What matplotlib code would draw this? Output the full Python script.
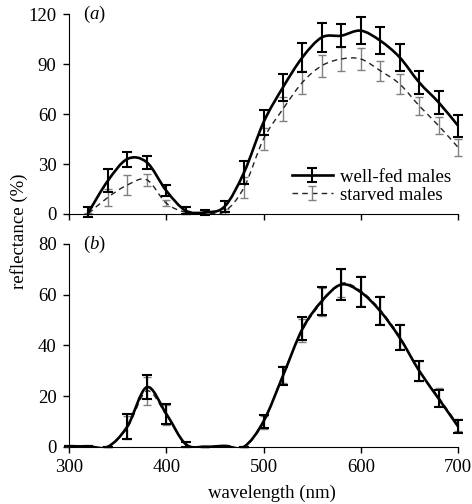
import numpy as np
import matplotlib
matplotlib.use("Agg")
import matplotlib.pyplot as plt
from matplotlib.path import Path
from matplotlib.patches import PathPatch
from matplotlib.lines import Line2D
from matplotlib.container import ErrorbarContainer
from matplotlib.legend_handler import HandlerErrorbar

plt.rcParams['font.family'] = ['Liberation Serif', 'DejaVu Serif']
plt.rcParams['mathtext.fontset'] = 'custom'
plt.rcParams['mathtext.it'] = 'Liberation Serif:italic'
plt.rcParams['mathtext.rm'] = 'Liberation Serif'

# panel (a): 320-700 nm
wl_a = [320, 340, 360, 380, 400, 420, 440, 460, 480, 500,
        520, 540, 560, 580, 600, 620, 640, 660, 680, 700]
fed_a = [1, 20, 33, 31, 14, 2, 1, 4.5, 25, 55,
         76, 94, 106, 107, 110, 104, 94, 79, 67, 53]
fed_a_err = [3, 7, 4.5, 4, 3.5, 2, 1.5, 3.5, 7, 7.5,
             8, 8.5, 8.5, 7, 8, 8, 8, 7, 7, 6.5]
stv_a = [0.3, 10, 17.4, 20.5, 6.5, 1, 0.5, 1.5, 16, 45,
         63, 79, 89, 93, 93, 86, 78, 65, 53, 40]
stv_a_err = [0.5, 5.3, 6, 3.5, 2, 1, 0.5, 1.5, 6.5, 6.5,
             7, 7, 6.5, 7, 6.5, 6, 6, 5.5, 5, 5]

# panel (b): 300-700 nm
wl_b = [300, 320, 340, 360, 380, 400, 420, 440, 460, 480, 500,
        520, 540, 560, 580, 600, 620, 640, 660, 680, 700]
fed_b = [0.2, 0.1, 0, 8, 23.5, 13, 1, 0, 0.3, 0, 10,
         28, 46.5, 57.5, 64, 61, 53.5, 43, 30, 19, 8]
fed_b_err = [0, 0, 0, 5, 4.7, 4, 1, 0, 0, 0, 2.5,
             3.5, 4.5, 5.5, 6, 6, 5.5, 5, 4, 3.5, 2.5]
stv_b = [0.2, 0.1, 0, 7.5, 22, 12.5, 1, 0, 0.3, 0, 9.5,
         28.5, 46, 57, 64.5, 61.5, 54, 43.5, 30, 19.5, 8.5]
stv_b_err = [0, 0, 0, 4.5, 5.6, 4, 1, 0, 0, 0, 2.5,
             3.5, 4.5, 5.5, 5.5, 6, 5.5, 5, 4, 3.5, 2.5]


def smooth_path(x, y):
    # catmull-rom style bezier through the points (like excel smoothed lines)
    pts = np.column_stack([x, y]).astype(float)
    n = len(pts)
    verts = [pts[0]]
    codes = [Path.MOVETO]
    for i in range(n - 1):
        p0 = pts[max(i - 1, 0)]
        p1 = pts[i]
        p2 = pts[i + 1]
        p3 = pts[min(i + 2, n - 1)]
        verts += [p1 + (p2 - p0) / 6, p2 - (p3 - p1) / 6, p2]
        codes += [Path.CURVE4] * 3
    return Path(verts, codes)


def unclip(eb):
    for art in list(eb.lines[1]) + list(eb.lines[2]):
        art.set_clip_on(False)


def draw_panel(ax, wl, fed, fed_err, stv, stv_err):
    eb_s = ax.errorbar(wl, stv, yerr=stv_err, fmt='none', ecolor='#808080',
                       elinewidth=1, capsize=3, capthick=1, zorder=2)
    ax.add_patch(PathPatch(smooth_path(wl, stv), fill=False, ec='#222222',
                           lw=1, ls=(0, (4, 3)), zorder=2))
    eb_f = ax.errorbar(wl, fed, yerr=fed_err, fmt='none', ecolor='black',
                       elinewidth=1.5, capsize=3.8, capthick=1.5, zorder=3)
    ax.add_patch(PathPatch(smooth_path(wl, fed), fill=False, ec='black',
                           lw=1.9, zorder=3))
    unclip(eb_s)
    unclip(eb_f)
    ax.set_xlim(300, 700)
    ax.spines['top'].set_visible(False)
    ax.spines['right'].set_visible(False)
    ax.tick_params(direction='out', length=4, width=1, labelsize=13.5, pad=5)
    ax.set_xticks([300, 400, 500, 600, 700])
    return eb_f, eb_s


fig = plt.figure(figsize=(4.72, 5.04), dpi=100)
ax1 = fig.add_axes([0.1462, 0.5754, 0.8242, 0.3968])
ax2 = fig.add_axes([0.1462, 0.1137, 0.8242, 0.4022])

eb_f, eb_s = draw_panel(ax1, wl_a, fed_a, fed_a_err, stv_a, stv_a_err)
ax1.set_ylim(0, 120)
ax1.set_yticks([0, 30, 60, 90, 120])
ax1.set_xticklabels([])
ax1.text(0.035, 1.0, r'($\it{a}$)', transform=ax1.transAxes,
         fontsize=13.5, va='center', ha='left')

draw_panel(ax2, wl_b, fed_b, fed_b_err, stv_b, stv_b_err)
ax2.set_ylim(0, 80)
ax2.set_yticks([0, 20, 40, 60, 80])
ax2.text(0.035, 1.0, r'($\it{b}$)', transform=ax2.transAxes,
         fontsize=13.5, va='center', ha='left')

h_f = (Line2D([], [], color='black', lw=1.9), eb_f)
h_s = (Line2D([], [], color='#222222', lw=1, ls=(0, (4, 3))), eb_s)
fig.legend([h_f, h_s], ['well-fed males', 'starved males'],
           loc='center left', bbox_to_anchor=(0.618, 0.631),
           bbox_transform=fig.transFigure, frameon=False, fontsize=13.5,
           handlelength=2.2, handletextpad=0.4, labelspacing=0.05,
           borderpad=0, borderaxespad=0,
           handler_map={ErrorbarContainer: HandlerErrorbar(xerr_size=0.5, yerr_size=0.36)})

fig.text(0.040, 0.5417, 'reflectance (%)', rotation=90, fontsize=13.5,
         ha='center', va='center')
fig.text(0.576, 0.022, 'wavelength (nm)', fontsize=13.5,
         ha='center', va='center')

fig.savefig('out.png', dpi=100)
